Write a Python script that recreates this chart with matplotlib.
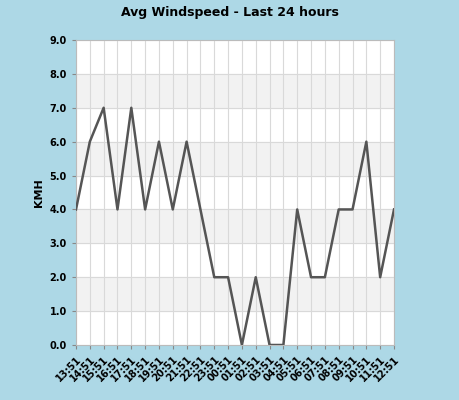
import matplotlib
matplotlib.use("Agg")
import matplotlib.pyplot as plt

times = ["13:51","14:51","15:51","16:51","17:51","18:51","19:51","20:51","21:51","22:51","23:51","00:51",
         "01:51","02:51","03:51","04:51","05:51","06:51","07:51","08:51","09:51","10:51","11:51","12:51"]
speeds = [4,6,7,4,7,4,6,4,6,4,2,2,0,2,0,0,4,2,2,4,4,6,2,4]

fig = plt.figure(figsize=(4.6,4.0), dpi=100, facecolor="#add8e6")
ax = fig.add_axes([76/460, 1-345/400, (394-76)/460, (345-40)/400])
ax.set_facecolor("white")
x = list(range(len(times)))
for lo in [1,3,5,7]:
    ax.axhspan(lo, lo+1, color="#f2f2f2", zorder=0)
for i in x:
    ax.axvline(i, color="#d9d9d9", lw=0.8, zorder=1)
for y in range(10):
    ax.axhline(y, color="#d9d9d9", lw=0.8, zorder=1)
ax.plot(x, speeds, color="#555555", lw=1.8, zorder=3)
ax.set_xlim(0, len(times)-1)
ax.set_ylim(0, 9)
ax.set_yticks(range(10))
ax.set_yticklabels([f"{v:.1f}" for v in range(10)], fontsize=7, fontweight="bold")
ax.set_xticks(x)
ax.set_xticklabels(times, rotation=45, ha="right", rotation_mode="anchor", fontsize=7, fontweight="bold")
ax.tick_params(length=3, color="#888888")
for s in ax.spines.values():
    s.set_color("#bbbbbb")
ax.set_ylabel("KMH", fontsize=8, fontweight="bold")
fig.suptitle("Avg Windspeed - Last 24 hours", y=0.985, fontsize=9, fontweight="bold")
fig.savefig("out.png", dpi=100, facecolor=fig.get_facecolor())
